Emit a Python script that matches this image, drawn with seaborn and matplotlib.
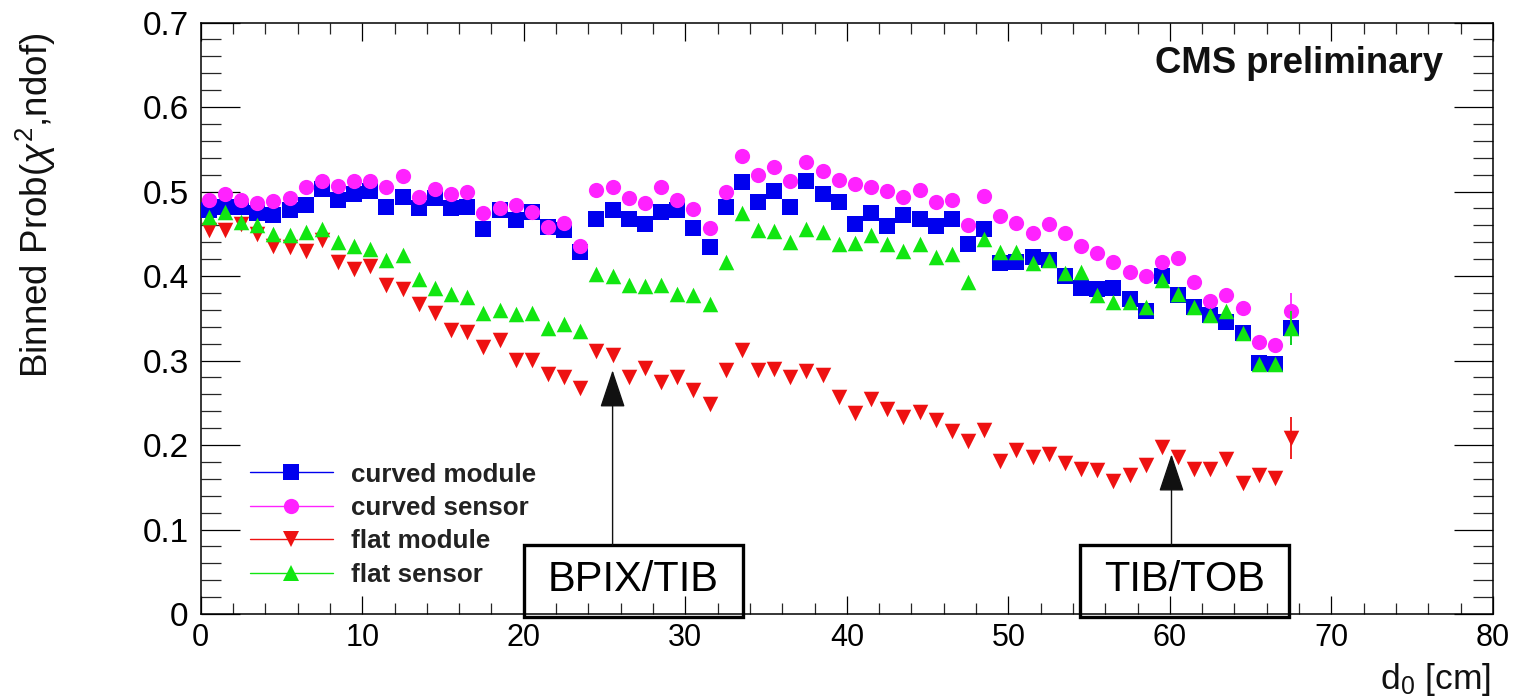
import numpy as np
import pandas as pd
import matplotlib
matplotlib.use('Agg')
import matplotlib.pyplot as plt
import seaborn as sns
from matplotlib.lines import Line2D
from matplotlib.patches import Rectangle, ArrowStyle
from matplotlib.ticker import MultipleLocator, FixedLocator, FixedFormatter

# ---------------- data ----------------
n_bins = 68
bin_width = 1.0
d0_centers = np.arange(n_bins) * bin_width + bin_width / 2

curved_module = [0.478, 0.482, 0.482, 0.474, 0.472, 0.478, 0.484, 0.503, 0.490, 0.497,
                 0.501, 0.482, 0.494, 0.480, 0.492, 0.480, 0.482, 0.456, 0.478, 0.466,
                 0.476, 0.458, 0.454, 0.428, 0.467, 0.478, 0.468, 0.461, 0.476, 0.478,
                 0.457, 0.434, 0.482, 0.511, 0.488, 0.501, 0.482, 0.513, 0.497, 0.488,
                 0.462, 0.474, 0.459, 0.472, 0.468, 0.459, 0.468, 0.438, 0.456, 0.415,
                 0.417, 0.423, 0.419, 0.400, 0.386, 0.385, 0.386, 0.373, 0.358, 0.400,
                 0.377, 0.363, 0.354, 0.345, 0.333, 0.297, 0.296, 0.338]

curved_sensor = [0.490, 0.497, 0.490, 0.486, 0.489, 0.492, 0.505, 0.513, 0.507, 0.512,
                 0.512, 0.505, 0.518, 0.494, 0.503, 0.497, 0.499, 0.474, 0.480, 0.484,
                 0.476, 0.458, 0.463, 0.435, 0.502, 0.505, 0.492, 0.486, 0.505, 0.490,
                 0.479, 0.457, 0.499, 0.542, 0.519, 0.529, 0.513, 0.535, 0.524, 0.514,
                 0.509, 0.505, 0.501, 0.494, 0.502, 0.488, 0.490, 0.460, 0.495, 0.471,
                 0.463, 0.451, 0.461, 0.451, 0.436, 0.427, 0.417, 0.405, 0.400, 0.417,
                 0.421, 0.393, 0.371, 0.377, 0.362, 0.322, 0.318, 0.358]

flat_module = [0.455, 0.454, 0.462, 0.450, 0.435, 0.434, 0.430, 0.443, 0.417, 0.408,
               0.412, 0.389, 0.385, 0.367, 0.356, 0.336, 0.334, 0.316, 0.324, 0.301,
               0.301, 0.284, 0.281, 0.267, 0.311, 0.307, 0.280, 0.291, 0.274, 0.281,
               0.265, 0.248, 0.289, 0.312, 0.289, 0.290, 0.281, 0.287, 0.283, 0.257,
               0.238, 0.254, 0.243, 0.233, 0.239, 0.229, 0.216, 0.205, 0.218, 0.181,
               0.194, 0.186, 0.189, 0.179, 0.172, 0.170, 0.157, 0.164, 0.176, 0.198,
               0.186, 0.172, 0.172, 0.184, 0.155, 0.164, 0.161, 0.208]

flat_sensor = [0.470, 0.476, 0.464, 0.460, 0.450, 0.448, 0.452, 0.456, 0.440, 0.435,
               0.432, 0.419, 0.425, 0.397, 0.386, 0.379, 0.375, 0.356, 0.360, 0.355,
               0.356, 0.338, 0.343, 0.335, 0.402, 0.400, 0.389, 0.388, 0.389, 0.379,
               0.378, 0.367, 0.417, 0.474, 0.454, 0.453, 0.440, 0.456, 0.452, 0.438,
               0.439, 0.448, 0.438, 0.430, 0.438, 0.423, 0.426, 0.393, 0.444, 0.428,
               0.428, 0.415, 0.419, 0.403, 0.405, 0.377, 0.369, 0.369, 0.363, 0.395,
               0.379, 0.363, 0.354, 0.358, 0.332, 0.296, 0.296, 0.338]

series_names = ['curved module', 'curved sensor', 'flat module', 'flat sensor']
series_values = [curved_module, curved_sensor, flat_module, flat_sensor]
series_colors = ['#0000ee', '#ff22ff', '#ee1111', '#11e611']
series_markers = ['s', 'o', 'v', '^']
series_sizes = [130, 120, 125, 125]
last_bin_err = [0.020, 0.022, 0.025, 0.020]

x_ticks = [0, 10, 20, 30, 40, 50, 60, 70, 80]
x_tick_labels = ['0', '10', '20', '30', '40', '50', '60', '70', '80']
y_ticks = [0, 0.1, 0.2, 0.3, 0.4, 0.5, 0.6, 0.7]
y_tick_labels = ['0', '0.1', '0.2', '0.3', '0.4', '0.5', '0.6', '0.7']

ann_labels = ['BPIX/TIB', 'TIB/TOB']
ann_arrow_x = [25.5, 60.1]
ann_arrow_tip = [0.2885, 0.189]
ann_box_x0 = [20.0, 54.45]
ann_box_x1 = [33.55, 67.35]
ann_box_top = 0.0816

# ---------------- style ----------------
sns.set_theme(style='ticks')
plt.rcParams['font.family'] = ['Liberation Sans', 'DejaVu Sans']
plt.rcParams['mathtext.fontset'] = 'custom'
plt.rcParams['mathtext.rm'] = 'Liberation Sans'
plt.rcParams['mathtext.it'] = 'Liberation Sans:italic'
plt.rcParams['mathtext.bf'] = 'Liberation Sans:bold'

fig = plt.figure(figsize=(15.18, 6.99), dpi=100)
fig.patch.set_facecolor('white')
ax = fig.add_axes([0.1322, 0.1216, 0.8513, 0.8462])
ax.set_facecolor('white')

df = pd.DataFrame({
    'd0': np.tile(d0_centers, len(series_names)),
    'prob': np.concatenate([np.asarray(v) for v in series_values]),
    'series': np.repeat(series_names, n_bins),
})

for i, name in enumerate(series_names):
    sub = df[df['series'] == name]
    sns.scatterplot(data=sub, x='d0', y='prob', marker=series_markers[i],
                    color=series_colors[i], s=series_sizes[i], linewidth=0,
                    ax=ax, zorder=3 + i, legend=False)
    ax.errorbar(sub['d0'].iloc[-1:], sub['prob'].iloc[-1:], yerr=last_bin_err[i],
                fmt='none', ecolor=series_colors[i], elinewidth=1.3, zorder=2 + i)

ax.set_xlim(0, 80)
ax.set_ylim(0, 0.7)
ax.xaxis.set_major_locator(FixedLocator(x_ticks))
ax.xaxis.set_major_formatter(FixedFormatter(x_tick_labels))
ax.yaxis.set_major_locator(FixedLocator(y_ticks))
ax.yaxis.set_major_formatter(FixedFormatter(y_tick_labels))
ax.xaxis.set_minor_locator(MultipleLocator(2))
ax.yaxis.set_minor_locator(MultipleLocator(0.02))

ax.tick_params(axis='x', which='major', direction='in', length=13, width=0.9,
               top=True, bottom=True, labelsize=22, pad=6.5, colors='black')
ax.tick_params(axis='x', which='minor', direction='in', length=8, width=0.9,
               top=True, bottom=True)
ax.tick_params(axis='y', which='major', direction='in', length=28, width=0.9,
               left=True, right=True, labelsize=24, pad=8.6, colors='black')
ax.tick_params(axis='y', which='minor', direction='in', length=14.4, width=0.9,
               left=True, right=True)
for sp in ax.spines.values():
    sp.set_visible(True)
    sp.set_color('black')
    sp.set_linewidth(1.1)

ax.set_xlabel('')
ax.set_ylabel('')
ax.text(-0.1274, 0.6915, r'Binned Prob($\chi^{2}$,ndof)', transform=ax.transAxes,
        rotation=90, ha='center', va='center', fontsize=26.5, color='#111111')
ax.text(0.998, -0.080, r'd$_{0}$ [cm]', transform=ax.transAxes,
        ha='right', va='top', fontsize=25.5, color='#111111')
ax.text(0.9613, 0.9315, 'CMS preliminary', transform=ax.transAxes,
        ha='right', va='center', fontsize=26.3, fontweight='bold', color='#111111')

# legend
handles = [Line2D([0], [0], color=series_colors[i], marker=series_markers[i],
                  markersize=11, lw=1.0, markeredgewidth=0)
           for i in range(len(series_names))]
ax.legend(handles, series_names, loc='upper left', bbox_to_anchor=(0.038, 0.256),
          frameon=False, prop={'weight': 'bold', 'size': 18.7},
          handlelength=3.2, handletextpad=0.7, labelspacing=0.36,
          borderpad=0, borderaxespad=0, labelcolor='#222222')

# annotations
for i, lab in enumerate(ann_labels):
    x0, x1 = ann_box_x0[i], ann_box_x1[i]
    rect = Rectangle((x0, -0.003), x1 - x0, ann_box_top + 0.003, fill=False,
                     edgecolor='black', linewidth=2.4, clip_on=False, zorder=10)
    ax.add_patch(rect)
    ax.text((x0 + x1) / 2, 0.040, lab, ha='center', va='center', fontsize=30,
            color='black', zorder=11)
    ax.annotate('', xy=(ann_arrow_x[i], ann_arrow_tip[i]),
                xytext=(ann_arrow_x[i], ann_box_top),
                arrowprops=dict(arrowstyle=ArrowStyle('-|>', head_length=1.5, head_width=0.5),
                                mutation_scale=16, color='#111111', lw=1.0,
                                shrinkA=0, shrinkB=0), zorder=12)

fig.savefig('out.png', dpi=100, facecolor='white')
